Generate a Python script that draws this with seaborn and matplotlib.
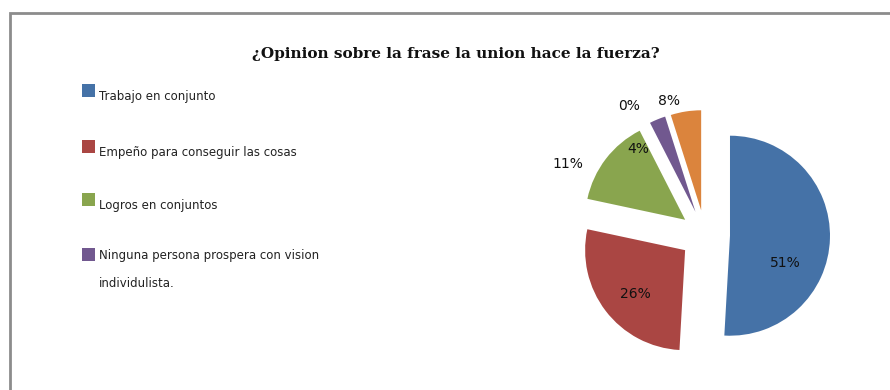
import numpy as np
import matplotlib
matplotlib.use("Agg")
import matplotlib.pyplot as plt
from matplotlib.patches import Rectangle
import seaborn as sns

# ---- data ----
title = "¿Opinion sobre la frase la union hace la fuerza?"
legend_labels = [
    "Trabajo en conjunto",
    "Empeño para conseguir las cosas",
    "Logros en conjuntos",
    "Ninguna persona prospera con vision\nindividulista.",
]
slice_values = [50.8, 27.4, 14.1, 2.6, 0.0, 4.9]
pct_labels = ["51%", "26%", "11%", "4%", "0%", "8%"]
slice_colors = ["#4572A7", "#AA4643", "#89A54E", "#71588F", "#4198AF", "#DB843D"]

# ---- style / layout ----
sns.set_theme(style="white")
plt.rcParams["font.family"] = ["DejaVu Sans"]

W, H = 890, 390
fig = plt.figure(figsize=(W / 100, H / 100), dpi=100)
fig.patch.set_facecolor("white")

def fx(px):
    return px / W

def fy(py):
    return 1 - py / H

# outer chart frame (extends past right/bottom edges)
fig.patches.append(Rectangle((fx(10), -0.2), 1.3, fy(13) + 0.2, transform=fig.transFigure,
                             fill=False, edgecolor="#8c8c8c", linewidth=2))

# title
fig.text(fx(456), fy(58), title, ha="center", va="baseline", fontsize=11,
         fontweight="bold", family=["DejaVu Serif"], color="#111111")

# legend (manual, entries aligned like the reference)
palette = sns.color_palette(slice_colors)
baselines = [100, 156, 209, 264]
for lab, col, b in zip(legend_labels, palette, baselines):
    fig.patches.append(Rectangle((fx(82), fy(b - 3)), fx(13), 13 / H, transform=fig.transFigure,
                                 facecolor=col, edgecolor="none"))
    nlines = lab.count("\n")
    fig.text(fx(99), fy(b + 23 * nlines), lab, ha="left", va="baseline", fontsize=8.5,
             color="#222222", linespacing=2.45)

# pie
cx, cy, R = 705, 235, 100
half = 1.6
ax = fig.add_axes([fx(cx - half * R), fy(cy + half * R), 2 * half * R / W, 2 * half * R / H])
ax.axis("off")
wedges, _ = ax.pie(slice_values, colors=palette, startangle=90, counterclock=False,
                   explode=[0.25] * len(slice_values), radius=1.0,
                   wedgeprops=dict(linewidth=0, edgecolor="none"), normalize=True)
for w in wedges:
    w.set_clip_on(False)
ax.set_xlim(-half, half)
ax.set_ylim(-half, half)

# label placement (polar position around pie centre: angle in degrees, radius)
label_pos = [(-18.9, 0.85), (220.4, 0.91), (152.7, 1.54), (128.0, 1.09),
             (120.5, 1.50), (104.8, 1.39)]
for txt, (ang, r) in zip(pct_labels, label_pos):
    a = np.deg2rad(ang)
    ax.text(r * np.cos(a), r * np.sin(a), txt, ha="center", va="center",
            fontsize=10, color="#111111", clip_on=False)

fig.savefig("out.png", dpi=100, facecolor="white")
